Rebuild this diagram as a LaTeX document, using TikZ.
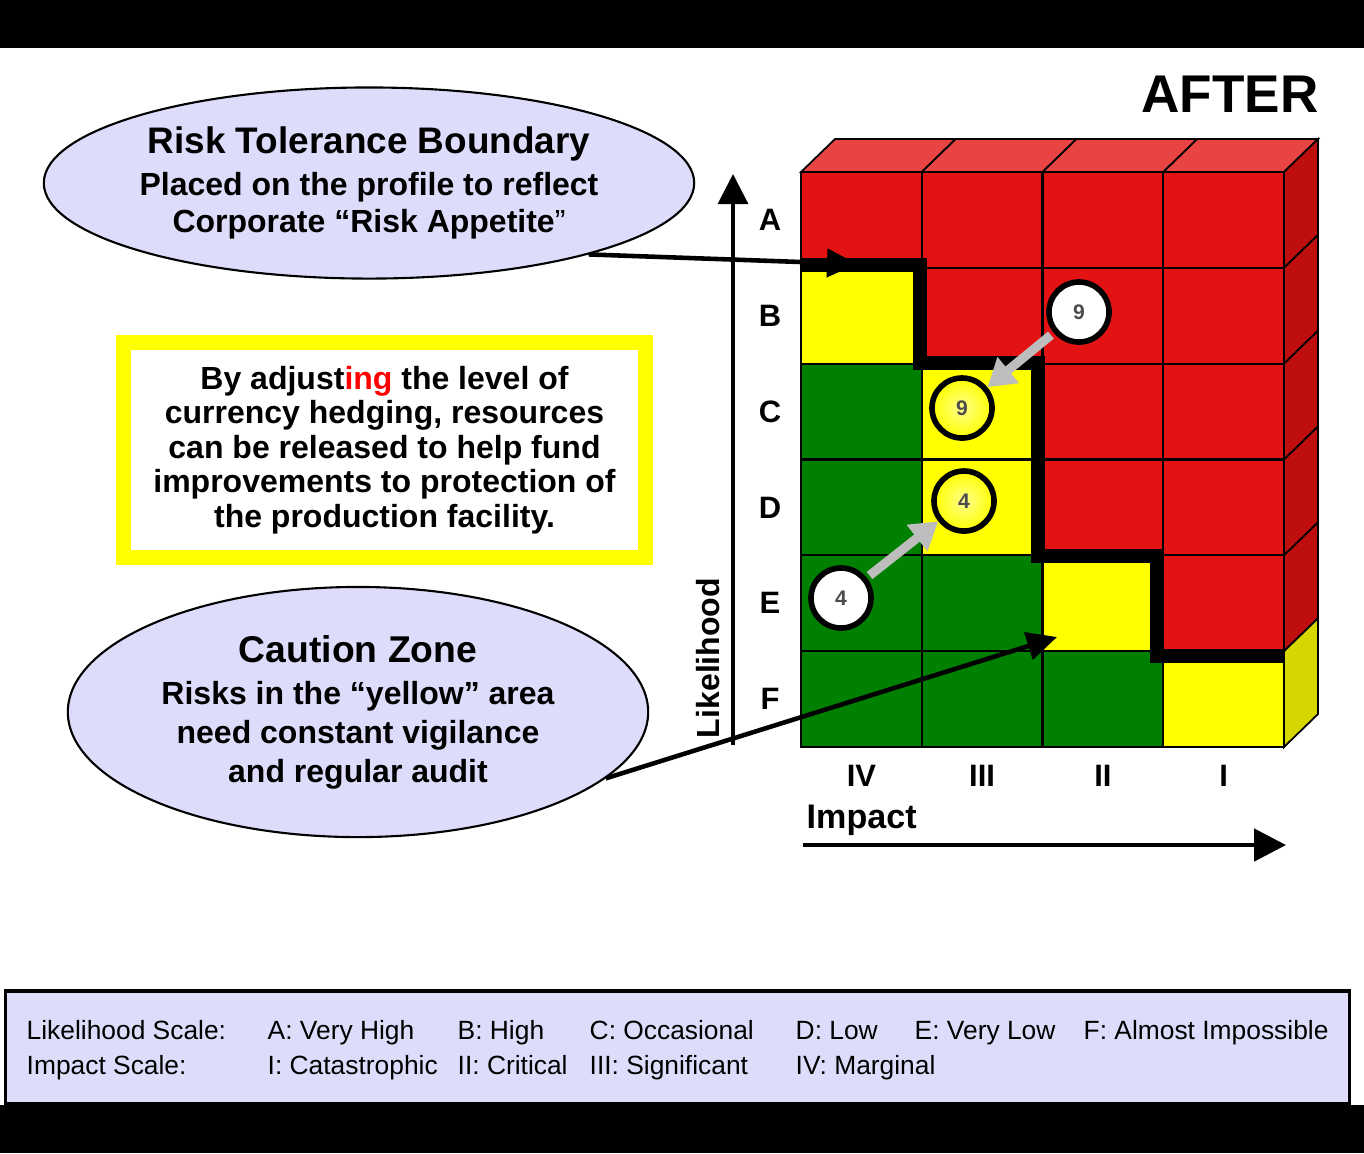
\documentclass[tikz,border=0pt]{standalone}
\usepackage{fontspec}
\setmainfont{Liberation Sans}
\usetikzlibrary{shapes.geometric,arrows.meta}

\definecolor{lavender}{HTML}{DDDDFB}
\definecolor{cellred}{HTML}{E31313}
\definecolor{topred}{HTML}{E84444}
\definecolor{sidered}{HTML}{BE0E0E}
\definecolor{cellyellow}{HTML}{FFFF00}
\definecolor{sideyellow}{HTML}{D6D600}
\definecolor{cellgreen}{HTML}{008000}
\definecolor{markgray}{HTML}{BDBDBD}

\tikzset{
  callout/.style={ellipse,draw=black,fill=lavender,line width=0.6pt,inner sep=0pt,align=center},
  marker/.style={circle,draw=black,line width=1.6pt,fill=white,minimum size=0.6cm,inner sep=0pt,
    font=\fontsize{6}{6}\selectfont\bfseries,text=black!70},
  glowmarker/.style={marker,inner color=white!55!yellow,outer color=yellow},
  move/.style={markgray,line width=2.6pt,-{Triangle[length=0.27cm,width=0.32cm]},shorten <=1pt},
  pointer/.style={black,line width=1.3pt,-{Triangle[length=0.3cm,width=0.28cm]}},
  axislabel/.style={font=\fontsize{8.8}{8.8}\selectfont\bfseries},
  legendtext/.style={anchor=base west,inner sep=0pt,font=\fontsize{7.5}{7.5}\selectfont},
}

% one front cell of the risk profile: column, row, colour
\newcommand\riskcell[3]{\fill[#3] ({801+120.75*#1},{172+95.83*#2}) rectangle ++(120.75,95.83);}

\begin{document}
\begin{tikzpicture}[x=0.01cm,y=-0.01cm]
\useasboundingbox (0,0) rectangle (1364,1153);
\fill[black] (0,0) rectangle (1364,48);

% title
\node[font=\fontsize{15.1}{15.1}\selectfont\bfseries] (title) at (1230,94) {AFTER};

% top and side faces of the block
\foreach \i [evaluate=\i as \xa using 801+120.75*\i, evaluate=\i as \xb using 801+120.75*(\i+1)] in {0,...,3}
  \draw[fill=topred,line width=0.5pt] (\xa,172) -- (\xb,172) -- ++(34,-33) -- ++(-120.75,0) -- cycle;
\foreach \j [evaluate=\j as \ya using 172+95.83*\j, evaluate=\j as \yb using 172+95.83*(\j+1)] in {0,...,4}
  \draw[fill=sidered,line width=0.5pt] (1284,\ya) -- (1284,\yb) -- ++(34,-33) -- (1318,{\ya-33}) -- cycle;
\draw[fill=sideyellow,line width=0.5pt] (1284,651.2) -- (1284,747) -- ++(34,-33) -- (1318,618.2) -- cycle;

% front cells
\fill[cellred] (801,172) rectangle (1284,747);
\riskcell{0}{1}{cellyellow}
\riskcell{1}{2}{cellyellow}
\riskcell{1}{3}{cellyellow}
\riskcell{2}{4}{cellyellow}
\riskcell{3}{5}{cellyellow}
\foreach \c/\r in {0/2,0/3,0/4,1/4,0/5,1/5,2/5}
  \riskcell{\c}{\r}{cellgreen}
\foreach \i [evaluate=\i as \xa using 801+120.75*\i] in {1,2,3}
  \draw[line width=0.6pt] (\xa,172) -- (\xa,747);
\foreach \j [evaluate=\j as \ya using 172+95.83*\j] in {1,...,5}
  \draw[line width=0.6pt] (801,\ya) -- (1284,\ya);
\draw[line width=0.7pt] (801,172) rectangle (1284,747);

% risk tolerance boundary
\draw[line width=4pt] (801,265) -| (920,363) -| (1038,556) -| (1157,656) -- (1284,656);

% likelihood axis
\coordinate (ybase) at (733,745);
\coordinate (ytop) at (733,174);
\draw[line width=0.9pt,-{Triangle[length=0.3cm,width=0.3cm]}] (ybase) -- (ytop);
\foreach \l [count=\j] in {A,B,C,D,E,F}
  \node[axislabel] (row\l) at (770,{172+95.83*(\j-0.5)}) {\l};
\node[axislabel,font=\fontsize{9.1}{9.1}\selectfont\bfseries,rotate=90] (likely) at (708,658) {Likelihood};

% impact axis
\foreach \l [count=\i] in {IV,III,II,I}
  \node[axislabel] (col\i) at ({801+120.75*(\i-0.5)},776) {\l};
\node[axislabel,font=\fontsize{9.7}{9.7}\selectfont\bfseries,anchor=west,inner sep=0pt] (impact) at (806,820) {Impact};
\coordinate (xbase) at (803,845);
\coordinate (xend) at (1286,845);
\draw[line width=1.4pt,-{Triangle[length=0.32cm,width=0.32cm]}] (xbase) -- (xend);

% risks before and after
\node[marker] (nineold) at (1079,312) {9};
\node[glowmarker] (ninenew) at (962,408) {9};
\node[glowmarker] (fournew) at (964,501) {4};
\node[marker] (fourold) at (841,598) {4};
\draw[move] (nineold) -- (ninenew);
\draw[move] (fourold) -- (fournew);

% callouts
\node[callout,minimum width=6.5cm,minimum height=1.91cm,font=\fontsize{9.1}{10.5}\selectfont\bfseries] (tol) at (369,183)
  {{\fontsize{10.5}{10.5}\selectfont Risk Tolerance Boundary}\\[1.6pt]
   Placed on the profile to reflect\\
   Corporate “Risk Appetite{\mdseries ”}};
\node[draw=cellyellow,line width=4.3pt,fill=white,minimum width=5.22cm,minimum height=2.15cm,
  align=center,font=\fontsize{9.1}{9.8}\selectfont\bfseries] (note) at (384.5,450)
  {By adjust{\color{red}ing} the level of\\
   currency hedging, resources\\
   can be released to help fund\\
   improvements to protection of\\
   the production facility.};
\node[callout,minimum width=5.8cm,minimum height=2.5cm,font=\fontsize{9.1}{11.1}\selectfont\bfseries] (caution) at (358,712)
  {{\fontsize{10.6}{10.6}\selectfont Caution Zone}\\[0.8pt]
   Risks in the “yellow” area\\
   need constant vigilance\\
   and regular audit};

\coordinate (tolend) at (857,264);
\coordinate (cautionend) at (1057,637);
\draw[pointer] (tol.-18) -- (tolend);
\draw[pointer] (caution.-15) -- (cautionend);

% legend
\fill[black] (0,1105) rectangle (1364,1153);
\node[draw=black,line width=0.9pt,fill=lavender,minimum width=13.43cm,minimum height=1.13cm,inner sep=0pt] (legend) at (677.5,1047.5) {};
\foreach \x/\t [count=\i] in {26/Likelihood Scale:,267/A: Very High,457/B: High,589/C: Occasional,795/D: Low,914/E: Very Low,1083/F: Almost Impossible}
  \node[legendtext] (lika\i) at (\x,1039) {\t};
\foreach \x/\t [count=\i] in {26/Impact Scale:,267/I: Catastrophic,457/II: Critical,589/III: Significant,795/IV: Marginal}
  \node[legendtext] (imp\i) at (\x,1074) {\t};
\end{tikzpicture}
\end{document}
